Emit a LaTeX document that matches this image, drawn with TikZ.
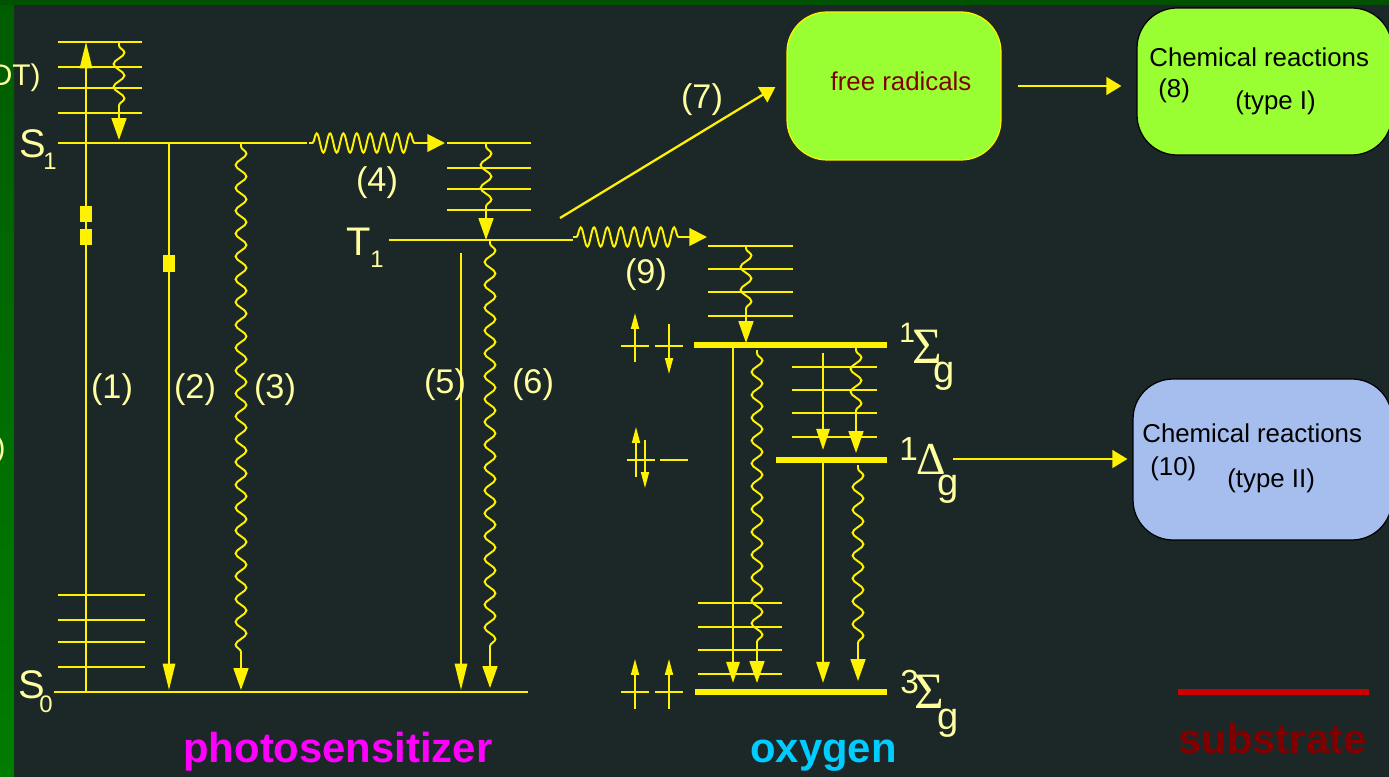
\documentclass[tikz,border=0pt]{standalone}
\usepackage{fontspec}
\setmainfont{Liberation Sans}
\newfontfamily\greekfont{Liberation Serif}
\usetikzlibrary{arrows.meta,decorations.pathmorphing,positioning}

\definecolor{board}{RGB}{28,40,40}
\definecolor{frame top}{RGB}{0,82,0}
\definecolor{frame side}{RGB}{0,124,0}
\definecolor{frame side top}{RGB}{0,92,0}
\definecolor{label ink}{RGB}{255,255,160}
\definecolor{lime box}{RGB}{153,255,51}
\definecolor{blue box}{RGB}{166,190,238}
\definecolor{radical ink}{RGB}{128,0,0}
\definecolor{substrate line}{RGB}{204,0,0}
\definecolor{sensitizer ink}{RGB}{255,0,255}
\definecolor{oxygen ink}{RGB}{0,204,255}
\colorlet{level line}{yellow}

\def\fsz#1{\fontsize{#1pt}{#1pt}\selectfont}

\tikzset{
  vib/.style={draw=level line, line width=1.1pt},
  ovib/.style={draw=level line, line width=1.4pt},
  band/.style={draw=level line, line width=3.4pt},
  rad/.style={draw=level line, line width=1.1pt, -{Triangle[length=15pt,width=7pt]}},
  orad/.style={draw=level line, line width=1.4pt, -{Triangle[length=12pt,width=7.5pt]}},
  wavy/.style={draw=level line, line width=1.1pt, -{Triangle[length=12.5pt,width=8.5pt]},
    decorate, decoration={snake, amplitude=3.1pt, segment length=13pt, pre length=2pt, post length=#1}},
  wavy/.default=19pt,
  coil/.style={draw=level line, line width=1.1pt, -{Triangle[length=10pt,width=10pt]},
    decorate, decoration={snake, amplitude=5.5pt, segment length=7.6pt, pre length=2pt, post length=15pt}},
  spin/.style={draw=level line, line width=0.9pt, -{Triangle[length=9pt,width=4.5pt]}},
  spinbar/.style={draw=level line, line width=0.9pt},
  link/.style={draw=level line, line width=1.3pt, -{Triangle[length=8.5pt,width=10pt]}},
  rbox/.style={rounded corners=0.8cm, inner sep=0pt, line width=0.7pt},
  num/.style={text=label ink, inner sep=0pt, font=\fsz{19.5}},
  boxtext/.style={text=black, inner sep=0pt, anchor=base west, font=\fsz{14.7}},
  term/.style={text=label ink, inner sep=0pt, anchor=base west},
  groupname/.style={inner sep=0pt, anchor=base west, font=\bfseries\fsz{23.8}}
}

\begin{document}
\begin{tikzpicture}[x=0.02cm, y=-0.02cm]
  % backdrop and frame
  \fill[board] (0,0) rectangle (1389,777);
  \shade[top color=frame side top, bottom color=frame side] (0,0) rectangle (14,777);
  \fill[frame top] (0,0) rectangle (1389,5);
  \useasboundingbox (0,0) rectangle (1389,777);

  % text cut by the frame
  \node[num, anchor=east, font=\fsz{17}] (cutone) at (41,78) {DT)};
  \node[num, anchor=east, font=\fsz{17}] (cuttwo) at (6,450) {)};

  % photosensitizer levels
  \foreach \y in {42,67,88,113} \draw[vib] (58,\y) -- (142,\y);
  \foreach \y in {595,620,642,667} \draw[vib] (58,\y) -- (145,\y);
  \foreach \y in {143,168,189,210} \draw[vib] (447,\y) -- (531,\y);
  \draw[vib] (58,143) -- (307,143);
  \draw[vib] (54,692) -- (528,692);
  \draw[vib] (389,240) -- (573,240);

  \node[term, font=\fsz{22.7}] (Sone) at (19,157) {S};
  \node[term, font=\fsz{13.6}] (Sonesub) at (43,169) {1};
  \node[term, font=\fsz{22.7}] (Szero) at (18,698) {S};
  \node[term, font=\fsz{13.6}] (Szerosub) at (39,712) {0};
  \node[term, font=\fsz{22.7}] (Tone) at (346,255) {T};
  \node[term, font=\fsz{13.6}] (Tonesub) at (370,267) {1};

  % transitions of the photosensitizer
  \draw[rad] (86,692) -- (86,42);
  \fill[yellow] (80,206) rectangle (92,222);
  \fill[yellow] (80,229) rectangle (92,245);
  \draw[rad] (169,143) -- (169,690);
  \fill[yellow] (163,255) rectangle (175,272);
  \draw[wavy=15pt] (119,42) -- (119,140);
  \draw[wavy] (241,143) -- (241,690);
  \draw[coil] (309,143) -- (445,143);
  \draw[wavy=17pt] (486,143) -- (486,240);
  \draw[rad] (461,253) -- (461,690);
  \draw[wavy] (490,240) -- (490,688);
  \draw[coil] (573,237) -- (707,237);

  \node[num] (n1) at (112,390) {(1)};
  \node[num] (n2) at (195,390) {(2)};
  \node[num] (n3) at (275,390) {(3)};
  \node[num] (n4) at (377,183) {(4)};
  \node[num] (n5) at (445,385) {(5)};
  \node[num] (n6) at (533,385) {(6)};
  \node[num] (n7) at (702,100) {(7)};
  \node[num] (n9) at (646,275) {(9)};

  % oxygen levels
  \foreach \y in {246,269,292,316} \draw[ovib] (708,\y) -- (793,\y);
  \foreach \y in {367,390,413,437} \draw[ovib] (792,\y) -- (877,\y);
  \foreach \y in {603,627,650,674} \draw[ovib] (698,\y) -- (782,\y);
  \draw[band] (694,345) -- (887,345);
  \draw[band] (776,460) -- (887,460);
  \draw[band] (695,692) -- (887,692);

  \draw[wavy=15pt] (746,245) -- (746,343);
  \draw[orad] (733,345) -- (733,683);
  \draw[wavy=17pt] (757,350) -- (757,683);
  \draw[orad] (823,353) -- (823,450);
  \draw[wavy=18pt] (856,347) -- (856,453);
  \draw[orad] (823,460) -- (823,683);
  \draw[wavy] (858,465) -- (858,681);

  % spins
  \draw[spinbar] (621,346) -- (649,346);
  \draw[spin] (635,362) -- (635,313);
  \draw[spinbar] (655,346) -- (683,346);
  \draw[spin] (669,324) -- (669,374);
  \draw[spinbar] (627,460) -- (655,460);
  \draw[spin] (636,477) -- (636,427);
  \draw[spin] (645,440) -- (645,488);
  \draw[spinbar] (660,460) -- (688,460);
  \draw[spinbar] (621,692) -- (649,692);
  \draw[spin] (635,709) -- (635,659);
  \draw[spinbar] (655,692) -- (683,692);
  \draw[spin] (669,709) -- (669,659);

  \node[term, font=\fsz{16}] (sigone) at (899,342) {1};
  \node[term, font=\greekfont\fsz{29}] (sigtop) at (912,363) {Σ};
  \node[term, font=\fsz{21.7}] (sigg) at (933,382) {g};
  \node[term, font=\fsz{19}] (delone) at (899,460) {1};
  \node[term, font=\greekfont\fsz{26}] (delta) at (916,474) {Δ};
  \node[term, font=\fsz{21.7}] (delg) at (937,495) {g};
  \node[term, font=\fsz{19}] (tripthree) at (900,693) {3};
  \node[term, font=\greekfont\fsz{29}] (sigbot) at (914,708) {Σ};
  \node[term, font=\fsz{21.7}] (tripg) at (937,729) {g};

  % reaction boxes
  \node[rbox, fill=lime box, draw=yellow, minimum width=4.28cm, minimum height=2.96cm] (radicals) at (894,86) {};
  \node[rbox, fill=lime box, draw=black, minimum width=5.1cm, minimum height=2.94cm] (typeone) at (1264.5,81.5) {};
  \node[rbox, fill=blue box, draw=black, minimum width=5.18cm, minimum height=3.22cm] (typetwo) at (1262.5,459.5) {};

  \node[boxtext, anchor=center, text=radical ink] (radtext) at (901,81) {free radicals};
  \node[boxtext] (chemone) at (1149,67) {Chemical reactions};
  \node[boxtext] (eight) at (1158,97) {(8)};
  \node[boxtext] (typeI) at (1235,110) {(type I)};
  \node[boxtext] (chemtwo) at (1142,442) {Chemical reactions};
  \node[boxtext] (ten) at (1150,475) {(10)};
  \node[boxtext] (typeII) at (1227,487) {(type II)};

  \coordinate (tripout) at (560,218);
  \coordinate (deltaout) at (953,459);
  \draw[link] (tripout) -- ([xshift=-0.22cm,yshift=-0.02cm]radicals.west);
  \draw[link, shorten <=0.32cm, shorten >=0.3cm] (radicals.east) -- (radicals.east -| typeone.west);
  \draw[link, shorten >=0.1cm] (deltaout) -- (deltaout -| typetwo.west);

  % substrate
  \draw[substrate line, line width=3.4pt] (1178,692) -- (1369,692);

  \node[groupname, text=sensitizer ink] (sens) at (183,762) {photosensitizer};
  \node[groupname, text=oxygen ink] (oxy) at (750,762) {oxygen};
  \node[groupname, text=radical ink] (subs) at (1178,753) {substrate};
\end{tikzpicture}
\end{document}
